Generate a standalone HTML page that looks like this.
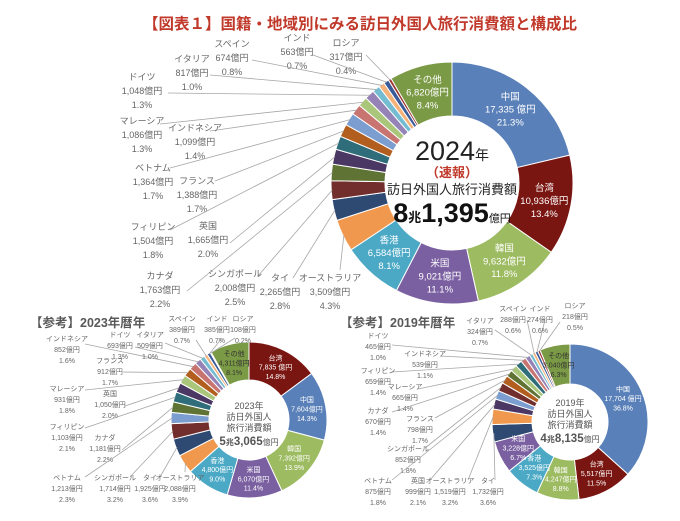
<!DOCTYPE html>
<html><head><meta charset="utf-8">
<style>
html,body{margin:0;padding:0;background:#fff;width:680px;height:521px;overflow:hidden;}
svg{display:block;font-family:"Liberation Sans","Noto Sans CJK JP",sans-serif;}
</style></head>
<body>
<svg id="s" width="680" height="521" viewBox="0 0 680 521" xmlns="http://www.w3.org/2000/svg">
<text x="143" y="29" font-size="15.5" font-weight="bold" fill="#c0392b">【図表１】国籍・地域別にみる訪日外国人旅行消費額と構成比</text>
<text x="30" y="327" font-size="12.5" font-weight="bold" fill="#595959">【参考】2023年暦年</text>
<text x="340" y="327" font-size="12.5" font-weight="bold" fill="#595959">【参考】2019年暦年</text>
<g id="g"></g>
<text x="452" y="160" font-size="27" fill="#222" text-anchor="middle">2024<tspan font-size="14">年</tspan></text>
<text x="452" y="177" font-size="13" font-weight="bold" fill="#c0392b" text-anchor="middle">（速報）</text>
<text x="452" y="194" font-size="13" fill="#222" text-anchor="middle">訪日外国人旅行消費額</text>
<text x="452" y="222" font-size="27" font-weight="bold" fill="#111" text-anchor="middle">8<tspan font-size="13">兆</tspan>1,395<tspan font-size="11" font-weight="normal">億円</tspan></text>
<text x="249" y="409" font-size="9" fill="#555" text-anchor="middle">2023年</text>
<text x="249" y="420" font-size="9" fill="#555" text-anchor="middle">訪日外国人</text>
<text x="249" y="431" font-size="9" fill="#555" text-anchor="middle">旅行消費額</text>
<text x="249" y="445" font-size="11.5" font-weight="bold" fill="#555" text-anchor="middle">5<tspan font-size="8">兆</tspan>3,065<tspan font-size="8" font-weight="normal">億円</tspan></text>
<text x="570" y="406" font-size="9" fill="#555" text-anchor="middle">2019年</text>
<text x="570" y="417" font-size="9" fill="#555" text-anchor="middle">訪日外国人</text>
<text x="570" y="428" font-size="9" fill="#555" text-anchor="middle">旅行消費額</text>
<text x="570" y="442" font-size="11.5" font-weight="bold" fill="#555" text-anchor="middle">4<tspan font-size="8">兆</tspan>8,135<tspan font-size="8" font-weight="normal">億円</tspan></text>
</svg>
<script>
var C={"中国":"#5a80b9","台湾":"#7a1611","韓国":"#9dbb61","米国":"#7b60a1","香港":"#4ba9c5","オーストラリア":"#f0994e","タイ":"#2f4a72","シンガポール":"#722e2d","カナダ":"#5f7434","英国":"#4a3764","フィリピン":"#2f6d7a","フランス":"#b25e1e","ベトナム":"#7c9dcf","インドネシア":"#c87471","マレーシア":"#aac67a","ドイツ":"#9582b6","イタリア":"#74bcd2","スペイン":"#f5b27a","インド":"#3b5b98","ロシア":"#9c3430","その他":"#7b9a45"};
var g=document.getElementById('g');var NS="http://www.w3.org/2000/svg";
function el(t,a,txt){var e=document.createElementNS(NS,t);for(var k in a)e.setAttribute(k,a[k]);if(txt!==undefined)e.textContent=txt;g.appendChild(e);return e;}
function pt(cx,cy,r,a){return [cx+r*Math.sin(a),cy-r*Math.cos(a)];}
function donut(cx,cy,R,ri,data,fs,inner){
 var tot=0;data.forEach(function(d){tot+=d[2];});
 var a=0,mids={};
 data.forEach(function(d){
  var a1=a+d[2]/tot*2*Math.PI;
  var p1=pt(cx,cy,R,a),p2=pt(cx,cy,R,a1),p3=pt(cx,cy,ri,a1),p4=pt(cx,cy,ri,a);
  var lg=(a1-a)>Math.PI?1:0;
  el('path',{d:'M'+p1+'A'+R+','+R+' 0 '+lg+' 1 '+p2+'L'+p3+'A'+ri+','+ri+' 0 '+lg+' 0 '+p4+'Z',fill:C[d[0]],stroke:'#fff','stroke-width':1});
  mids[d[0]]=(a+a1)/2;a=a1;
 });
 inner.forEach(function(d){
  var m=mids[d[0]],p=pt(cx,cy,(R+ri)/2,m),lh=fs*1.35;
  [d[0],d[1],d[2]].forEach(function(s,i){
   el('text',{x:p[0],y:p[1]+(i-1)*lh+fs*0.35,'font-size':fs,fill:d[3]||'#fff','text-anchor':'middle'},s);
  });
 });
 return mids;
}
function labels(cx,cy,R,mids,L,fs,lh){
 L.forEach(function(l){
  var m=mids[l[0]],p=pt(cx,cy,R-1,m);
  el('polyline',{points:l[7]+','+l[8]+' '+p[0]+','+p[1],fill:'none',stroke:'#a6a6a6','stroke-width':0.8});
  [l[0],l[1],l[2]].forEach(function(s,i){
   el('text',{x:l[3],y:l[4]+i*lh,'font-size':fs,fill:'#666','text-anchor':'middle'},s);
  });
 });
}
var d24=[["中国",0,21.3],["台湾",0,13.4],["韓国",0,11.8],["米国",0,11.1],["香港",0,8.1],["オーストラリア",0,4.3],["タイ",0,2.8],["シンガポール",0,2.5],["カナダ",0,2.2],["英国",0,2.0],["フィリピン",0,1.8],["フランス",0,1.7],["ベトナム",0,1.7],["インドネシア",0,1.4],["マレーシア",0,1.3],["ドイツ",0,1.3],["イタリア",0,1.0],["スペイン",0,0.8],["インド",0,0.7],["ロシア",0,0.4],["その他",0,8.4]];
var m24=donut(452,183,121,67,d24,9.5,[["中国","17,335 億円","21.3%"],["台湾","10,936億円","13.4%"],["韓国","9,632億円","11.8%"],["米国","9,021億円","11.1%"],["香港","6,584億円","8.1%"],["その他","6,820億円","8.4%"]]);
labels(452,183,121,m24,[
["ロシア","317億円","0.4%",346,46,0,0,366,55],
["インド","563億円","0.7%",297,41,0,0,313,55],
["スペイン","674億円","0.8%",232,47,0,0,252,60],
["イタリア","817億円","1.0%",192,62,0,0,210,75],
["ドイツ","1,048億円","1.3%",142,80,0,0,168,93],
["マレーシア","1,086億円","1.3%",142,124,0,0,160,124],
["インドネシア","1,099億円","1.4%",195,131,0,0,210,131],
["ベトナム","1,364億円","1.7%",153,171,0,0,170,168],
["フランス","1,388億円","1.7%",197,184,0,0,215,181],
["フィリピン","1,504億円","1.8%",153,230,0,0,170,230],
["英国","1,665億円","2.0%",208,229,0,0,230,243],
["カナダ","1,763億円","2.2%",160,279,0,0,187,291],
["シンガポール","2,008億円","2.5%",235,277,0,0,258,276],
["タイ","2,265億円","2.8%",280,281,0,0,293,278],
["オーストラリア","3,509億円","4.3%",330,281,0,0,340,270]
],9,14);
var d23=[["台湾",0,14.8],["中国",0,14.3],["韓国",0,13.9],["米国",0,11.4],["香港",0,9.0],["オーストラリア",0,3.9],["タイ",0,3.6],["シンガポール",0,3.2],["ベトナム",0,2.3],["カナダ",0,2.2],["フィリピン",0,2.1],["英国",0,2.0],["マレーシア",0,1.8],["フランス",0,1.7],["インドネシア",0,1.6],["ドイツ",0,1.3],["イタリア",0,1.0],["スペイン",0,0.7],["インド",0,0.7],["ロシア",0,0.2],["その他",0,8.1]];
var m23=donut(249,420,78,40,d23,7,[["台湾","7,835 億円","14.8%"],["中国","7,604億円","14.3%"],["韓国","7,392億円","13.9%"],["米国","6,070億円","11.4%"],["香港","4,800億円","9.0%"],["その他","4,311億円","8.1%","#333"]]);
labels(249,420,78,m23,[
["インドネシア","852億円","1.6%",67,341,0,0,85,344],
["ドイツ","693億円","1.3%",120,337,0,0,135,347],
["イタリア","509億円","1.0%",150,337,0,0,165,343],
["スペイン","389億円","0.7%",182,321,0,0,196,340],
["インド","385億円","0.7%",217,321,0,0,222,338],
["ロシア","108億円","0.2%",243,321,0,0,235,338],
["フランス","912億円","1.7%",110,363,0,0,123,372],
["マレーシア","931億円","1.8%",67,391,0,0,85,390],
["英国","1,050億円","2.0%",110,396,0,0,125,406],
["フィリピン","1,103億円","2.1%",67,429,0,0,85,428],
["カナダ","1,181億円","2.2%",105,440,0,0,122,450],
["ベトナム","1,213億円","2.3%",67,480,0,0,85,477],
["シンガポール","1,714億円","3.2%",115,480,0,0,130,477],
["タイ","1,925億円","3.6%",150,480,0,0,160,477],
["オーストラリア","2,088億円","3.9%",180,480,0,0,185,472]
],7,11);
var d19=[["中国",0,36.8],["台湾",0,11.5],["韓国",0,8.8],["香港",0,7.3],["米国",0,6.7],["タイ",0,3.6],["オーストラリア",0,3.2],["英国",0,2.1],["ベトナム",0,1.8],["シンガポール",0,1.8],["フランス",0,1.7],["カナダ",0,1.4],["マレーシア",0,1.4],["フィリピン",0,1.4],["インドネシア",0,1.1],["ドイツ",0,1.0],["イタリア",0,0.7],["スペイン",0,0.6],["インド",0,0.6],["ロシア",0,0.5],["その他",0,6.3]];
var m19=donut(570,422,78,38,d19,7,[["中国","17,704 億円","36.8%"],["台湾","5,517億円","11.5%"],["韓国","4,247億円","8.8%"],["香港","3,525億円","7.3%"],["米国","3,228億円","6.7%"],["その他","3,040億円","6.3%","#333"]]);
labels(570,422,78,m19,[
["ドイツ","465億円","1.0%",378,338,0,0,392,345],
["インドネシア","539億円","1.1%",425,356,0,0,440,356],
["フィリピン","659億円","1.4%",378,373,0,0,392,372],
["マレーシア","665億円","1.4%",405,389,0,0,418,389],
["カナダ","670億円","1.4%",378,413,0,0,392,412],
["フランス","798億円","1.7%",420,421,0,0,435,418],
["シンガポール","852億円","1.8%",408,451,0,0,425,448],
["ベトナム","875億円","1.8%",378,483,0,0,392,480],
["英国","999億円","2.1%",418,483,0,0,430,480],
["オーストラリア","1,519億円","3.2%",450,483,0,0,468,480],
["タイ","1,732億円","3.6%",488,483,0,0,495,480],
["イタリア","324億円","0.7%",480,323,0,0,495,330],
["スペイン","288億円","0.6%",513,311,0,0,527,320],
["インド","274億円","0.6%",540,311,0,0,545,320],
["ロシア","218億円","0.5%",575,308,0,0,560,322]
],7,11);
</script>
</body></html>
